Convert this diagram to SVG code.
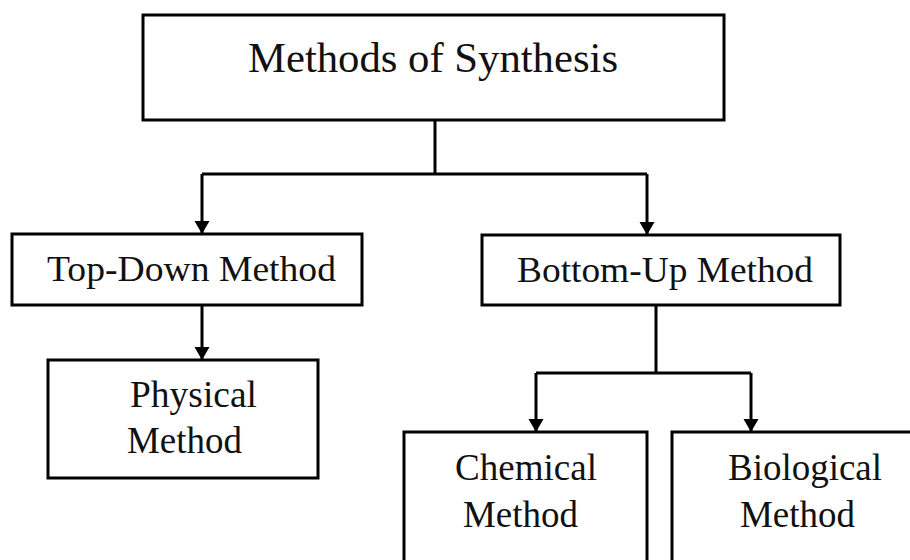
<svg xmlns="http://www.w3.org/2000/svg" width="910" height="560" viewBox="0 0 910 560">
<defs>
<marker id="arr" markerUnits="userSpaceOnUse" markerWidth="14" markerHeight="16" viewBox="0 0 14 16" refX="13" refY="8" orient="auto">
<path d="M0,0.5 L13,8 L0,15.5 Z" fill="#000"/>
</marker>
<style>
.box{fill:#fff;stroke:#000;stroke-width:3}
.t{font-family:"Liberation Serif","Times New Roman",serif;fill:#111}
.c{fill:none;stroke:#000;stroke-width:3}
</style>
</defs>
<rect width="910" height="560" fill="#fff"/>
<g id="connectors">
<path class="c" d="M435,120 V174"/>
<path class="c" d="M202,174 H647"/>
<path class="c" d="M202,174 V234" marker-end="url(#arr)"/>
<path class="c" d="M647,174 V235" marker-end="url(#arr)"/>
<path class="c" d="M202,305 V360" marker-end="url(#arr)"/>
<path class="c" d="M656,305 V373"/>
<path class="c" d="M536,373 H751"/>
<path class="c" d="M536,373 V432" marker-end="url(#arr)"/>
<path class="c" d="M751,373 V432" marker-end="url(#arr)"/>
</g>
<g id="methods-of-synthesis">
<rect class="box" x="143" y="15" width="581" height="105"/>
<text class="t" x="248" y="72" font-size="42" textLength="370" lengthAdjust="spacingAndGlyphs">Methods of Synthesis</text>
</g>
<g id="top-down">
<rect class="box" x="12" y="234" width="350" height="71"/>
<text class="t" x="47" y="281" font-size="36" textLength="289" lengthAdjust="spacingAndGlyphs">Top-Down Method</text>
</g>
<g id="bottom-up">
<rect class="box" x="482" y="235" width="358" height="70"/>
<text class="t" x="517" y="282" font-size="36" textLength="296" lengthAdjust="spacingAndGlyphs">Bottom-Up Method</text>
</g>
<g id="physical">
<rect class="box" x="48" y="360" width="270" height="118"/>
<text class="t" x="130" y="407" font-size="37" textLength="127" lengthAdjust="spacingAndGlyphs">Physical</text>
<text class="t" x="127" y="453" font-size="37" textLength="115" lengthAdjust="spacingAndGlyphs">Method</text>
</g>
<g id="chemical">
<rect class="box" x="404" y="432" width="243" height="150"/>
<text class="t" x="455" y="480" font-size="37" textLength="142" lengthAdjust="spacingAndGlyphs">Chemical</text>
<text class="t" x="463" y="527" font-size="37" textLength="115" lengthAdjust="spacingAndGlyphs">Method</text>
</g>
<g id="biological">
<rect class="box" x="672" y="432" width="260" height="150"/>
<text class="t" x="728" y="480" font-size="37" textLength="154" lengthAdjust="spacingAndGlyphs">Biological</text>
<text class="t" x="740" y="527" font-size="37" textLength="115" lengthAdjust="spacingAndGlyphs">Method</text>
</g>
</svg>
